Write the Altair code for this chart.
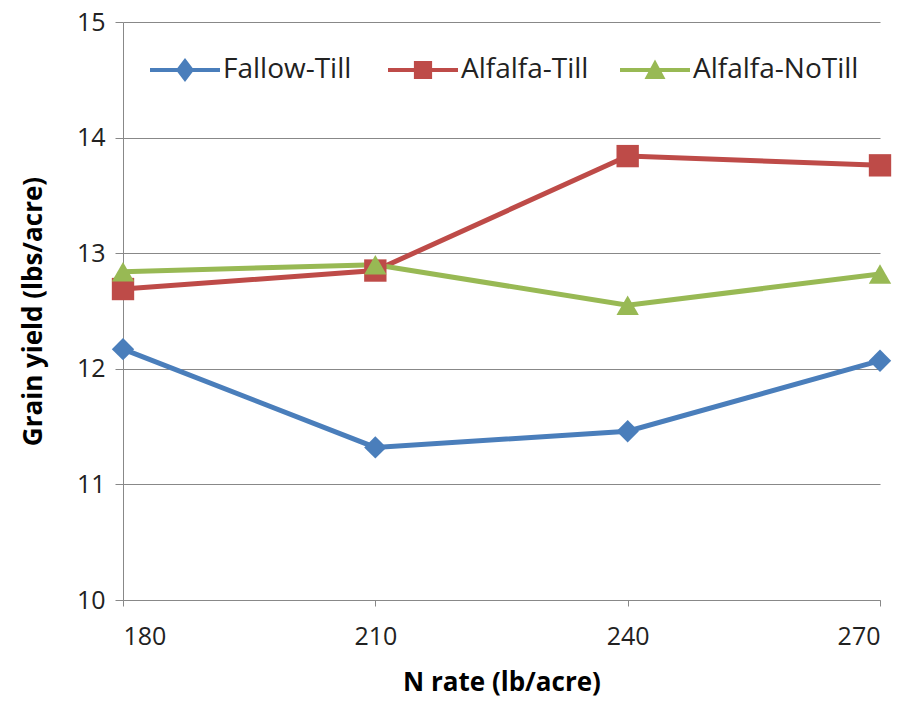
import altair as alt
import pandas as pd

n_rate = [180, 210, 240, 270]
series = ["Fallow-Till", "Alfalfa-Till", "Alfalfa-NoTill"]
fallow_till = [12.17, 11.32, 11.46, 12.07]
alfalfa_till = [12.69, 12.85, 13.84, 13.76]
alfalfa_notill = [12.84, 12.90, 12.55, 12.82]
colors = ["#4A7EBB", "#BE4B48", "#98B954"]
marker_shapes = ["diamond", "square", "triangle-up"]
y_ticks = [10, 11, 12, 13, 14, 15]
legend_x = [27, 265, 497]

rows = []
for name, vals in zip(series, [fallow_till, alfalfa_till, alfalfa_notill]):
    for x, v in zip(n_rate, vals):
        rows.append({"N": x, "Yield": v, "Series": name})
df = pd.DataFrame(rows)

line_part = "M-1,-0.06H1V0.06H-1Z"
legend_paths = [
    line_part + " M0,-0.34L0.26,0L0,0.34L-0.26,0Z",
    line_part + " M-0.26,-0.26H0.26V0.26H-0.26Z",
    line_part + " M0,-0.3L0.3,0.26H-0.3Z",
]

x_enc = alt.X("N:Q", scale=alt.Scale(domain=[180, 270], nice=False, zero=False),
              axis=alt.Axis(values=n_rate, title="N rate (lb/acre)", grid=False,
                            tickSize=6, tickColor="#888888", domainColor="#888888",
                            labelFontSize=25, labelPadding=18, labelColor="#222222",
                            titleFontSize=26, titleFontWeight="bold", titlePadding=20,
                            labelFont="Open Sans", titleFont="Open Sans"))
y_enc = alt.Y("Yield:Q", scale=alt.Scale(domain=[10, 15], nice=False, zero=False),
              axis=alt.Axis(values=y_ticks, format="d", title="Grain yield (lbs/acre)", grid=True,
                            gridColor="#888888", gridWidth=1.2,
                            tickSize=8, tickColor="#888888", domainColor="#888888",
                            labelFontSize=25, labelPadding=10, labelColor="#222222",
                            titleFontSize=26, titleFontWeight="bold", titlePadding=30,
                            labelFont="Open Sans", titleFont="Open Sans"))
color_scale = alt.Scale(domain=series, range=colors)

base = alt.Chart(df)

lines = base.mark_line(strokeWidth=5).encode(
    x=x_enc, y=y_enc,
    color=alt.Color("Series:N", scale=color_scale, legend=None),
    detail="Series:N",
)

point_layers = []
for name, shp in zip(series, marker_shapes):
    point_layers.append(
        base.transform_filter(alt.datum.Series == name)
        .mark_point(filled=True, opacity=1, size=500, shape=shp)
        .encode(x="N:Q", y="Yield:Q",
                color=alt.Color("Series:N", scale=color_scale, legend=None))
    )

legend_layers = []
for name, col, path, lx in zip(series, colors, legend_paths, legend_x):
    leg = alt.Legend(title=None, orient="none", direction="horizontal",
                     legendX=lx, legendY=13, symbolSize=4900,
                     symbolOpacity=1, symbolStrokeWidth=0,
                     symbolFillColor=col, symbolStrokeColor=col,
                     labelFontSize=28, labelFont="Open Sans", labelLimit=400,
                     labelColor="#222222", labelOffset=3)
    legend_layers.append(
        base.transform_filter(alt.datum.Series == name)
        .mark_point(filled=True, opacity=0, size=10, color=col)
        .encode(x="N:Q", y="Yield:Q",
                shape=alt.Shape("Series:N", scale=alt.Scale(domain=[name], range=[path]),
                                legend=leg))
    )

chart = alt.layer(lines, *point_layers, *legend_layers).resolve_scale(
    shape="independent"
).resolve_legend(shape="independent").properties(
    width=757, height=578,
    padding={"left": 123, "top": 22, "right": 43, "bottom": 107},
    autosize=alt.AutoSizeParams(type="none"),
    background="white",
).configure_view(stroke=None)

chart.save("out.html", embed_options={"renderer": "svg", "actions": False})
